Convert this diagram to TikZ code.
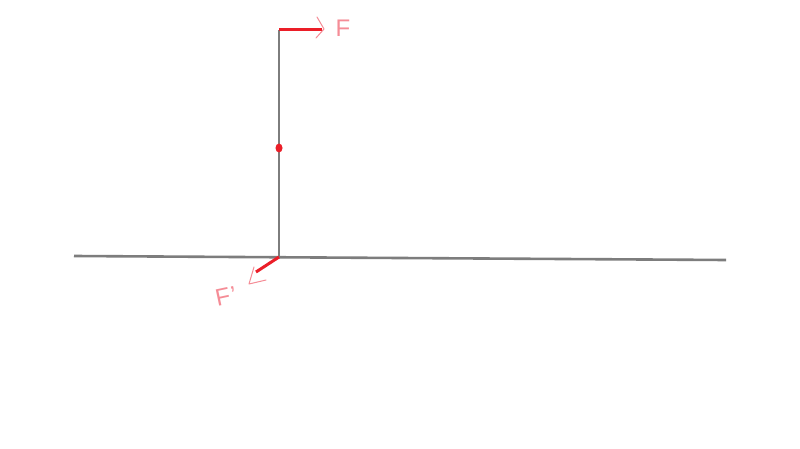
\documentclass[tikz,border=0pt]{standalone}
\usepackage{fontspec}
\setmainfont{Liberation Sans}
\definecolor{rodgray}{RGB}{125,125,125}
\definecolor{forcered}{RGB}{235,30,40}
\definecolor{labelpink}{RGB}{245,140,150}
\tikzset{
  rod/.style={draw=rodgray,line width=2.6pt},
  force/.style={draw=forcered,line width=3pt},
  chevron/.style={draw=labelpink,line width=1pt,line join=round,line cap=round},
  flabel/.style={text=labelpink,font=\fontsize{24}{24}\selectfont,inner sep=0pt}
}
\begin{document}
\begin{tikzpicture}[x=1pt,y=-1pt]
\useasboundingbox[fill=white] (0,0) rectangle (800,449);
\coordinate (gl) at (74,256);
\coordinate (gr) at (726,260);
\coordinate (base) at (279,257);
\coordinate (top) at (279,30);
\coordinate (ftip) at (322,30);
\coordinate (fptip) at (256,272);
\coordinate (mid) at (279,148);
% ground and rod
\draw[rod] (gl) -- (gr);
\draw[rod] (base) -- (top);
% forces
\draw[force] (top) -- (ftip);
\draw[force] (base) -- (fptip);
\fill[forcered] (mid) ellipse (3.5pt and 4.5pt);
% chevrons
\coordinate (c1a) at (317,17);
\coordinate (c1b) at (324,29);
\coordinate (c1c) at (316,38);
\draw[chevron] (c1a) -- (c1b) -- (c1c);
\coordinate (c2a) at (254,267);
\coordinate (c2b) at (249,284);
\coordinate (c2c) at (266,280);
\draw[chevron] (c2a) -- (c2b) -- (c2c);
% labels
\node[flabel] (F) at (343,28) {F};
\node[flabel,rotate=12] (Fp) at (226,296) {F\kern1pt'};
\end{tikzpicture}
\end{document}
